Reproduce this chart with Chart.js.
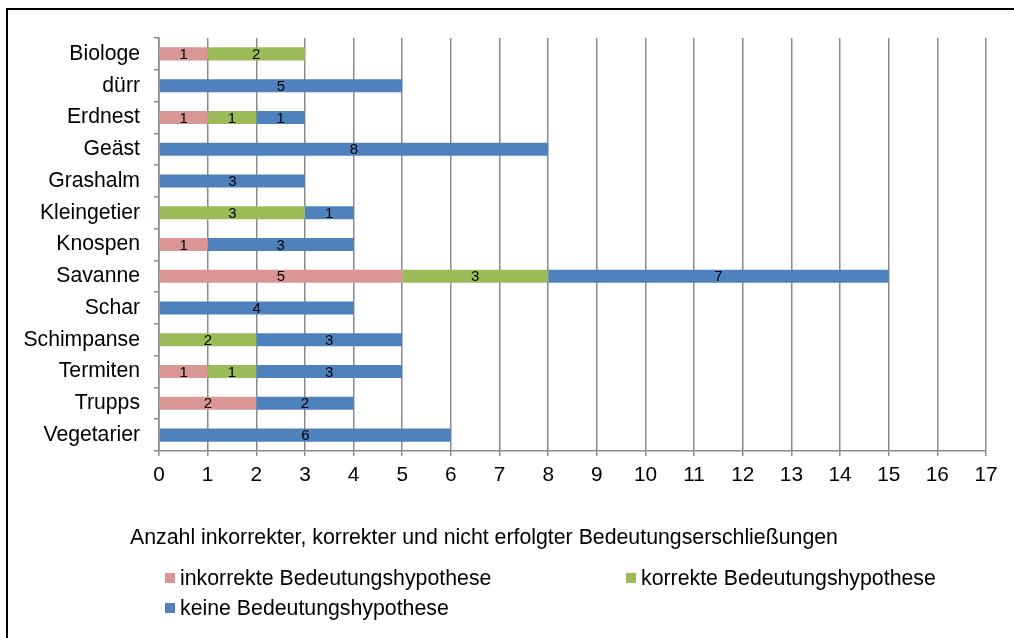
<!DOCTYPE html>
<html>
<head>
<meta charset="utf-8">
<script src="https://cdn.jsdelivr.net/npm/chart.js@4/dist/chart.umd.min.js"></script>
<style>
  html, body { margin: 0; padding: 0; background: #ffffff; }
  #wrap { position: relative; width: 1014px; height: 638px; }
</style>
</head>
<body>
<div id="wrap"><canvas id="c" width="1014" height="638"></canvas></div>
<script>
// Words and the count of each kind of meaning inference
const categories = ['Biologe', 'dürr', 'Erdnest', 'Geäst', 'Grashalm', 'Kleingetier', 'Knospen',
                    'Savanne', 'Schar', 'Schimpanse', 'Termiten', 'Trupps', 'Vegetarier'];
const inkorrekt = [1, 0, 1, 0, 0, 0, 1, 5, 0, 0, 1, 2, 0];
const korrekt   = [2, 0, 1, 0, 0, 3, 0, 3, 0, 2, 1, 0, 0];
const keine     = [0, 5, 1, 8, 3, 1, 3, 7, 4, 3, 3, 2, 6];

const seriesLabels = ['inkorrekte Bedeutungshypothese', 'korrekte Bedeutungshypothese', 'keine Bedeutungshypothese'];
const seriesColors = ['#D99694', '#9BBB59', '#4F81BD'];
const xMin = 0, xMax = 17, xStep = 1;
const axisTitle = 'Anzahl inkorrekter, korrekter und nicht erfolgter Bedeutungserschließungen';

const FONT = "'Liberation Sans', Arial, sans-serif";
const GRID = '#8a8a8a';

// Outer frame of the chart
const framePlugin = {
  id: 'frame',
  beforeDraw(chart) {
    const ctx = chart.ctx;
    ctx.save();
    ctx.fillStyle = '#ffffff';
    ctx.fillRect(0, 0, chart.width, chart.height);
    ctx.strokeStyle = '#000000';
    ctx.lineWidth = 2;
    ctx.strokeRect(7, 9, chart.width + 20, chart.height + 20);
    ctx.restore();
  }
};

// Count printed in the middle of each bar segment
const valueLabels = {
  id: 'valueLabels',
  afterDatasetsDraw(chart) {
    const ctx = chart.ctx;
    ctx.save();
    ctx.font = '15px ' + FONT;
    ctx.fillStyle = '#000000';
    ctx.textAlign = 'center';
    ctx.textBaseline = 'middle';
    chart.data.datasets.forEach((ds, di) => {
      const meta = chart.getDatasetMeta(di);
      meta.data.forEach((bar, i) => {
        const v = ds.data[i];
        if (!v) return;
        const p = bar.getProps(['x', 'y', 'base'], true);
        ctx.fillText(String(v), (p.x + p.base) / 2, p.y + 1);
      });
    });
    ctx.restore();
  }
};

// Axis caption and two-column legend beneath the plot
const captionLegend = {
  id: 'captionLegend',
  afterDraw(chart) {
    const ctx = chart.ctx;
    ctx.save();
    ctx.fillStyle = '#000000';
    ctx.font = '21.3px ' + FONT;
    ctx.textAlign = 'left';
    ctx.textBaseline = 'middle';
    ctx.fillText(axisTitle, 130, 538);

    const slots = [
      { x: 165, y: 578 },
      { x: 626, y: 578 },
      { x: 165, y: 608 }
    ];
    chart.data.datasets.forEach((ds, i) => {
      const s = slots[i];
      ctx.fillStyle = ds.backgroundColor;
      ctx.fillRect(s.x, s.y - 5, 10, 10);
      ctx.fillStyle = '#000000';
      ctx.fillText(ds.label, s.x + 15, s.y + 1);
    });
    ctx.restore();
  }
};

const datasets = [inkorrekt, korrekt, keine].map((values, i) => ({
  label: seriesLabels[i],
  data: values,
  backgroundColor: seriesColors[i],
  borderWidth: 0,
  barPercentage: 0.41,
  categoryPercentage: 1.0
}));

new Chart(document.getElementById('c'), {
  type: 'bar',
  data: { labels: categories, datasets },
  options: {
    indexAxis: 'y',
    responsive: false,
    animation: false,
    devicePixelRatio: 1,
    layout: { padding: { left: 0, top: 38, right: 28, bottom: 127 } },
    plugins: {
      legend: { display: false },
      tooltip: { enabled: false },
      title: { display: false }
    },
    scales: {
      x: {
        stacked: true,
        min: xMin,
        max: xMax,
        ticks: {
          stepSize: xStep,
          color: '#000000',
          font: { family: FONT, size: 20.8 },
          padding: 7
        },
        grid: {
          color: GRID,
          lineWidth: 1.5,
          tickLength: 5,
          drawTicks: true
        },
        border: { color: GRID, width: 1.5 },
        afterFit(scale) { scale.height = 60; }
      },
      y: {
        stacked: true,
        offset: true,
        ticks: {
          color: '#000000',
          font: { family: FONT, size: 21.2 },
          padding: 14,
          autoSkip: false
        },
        grid: {
          drawOnChartArea: false,
          drawTicks: true,
          tickLength: 5,
          color: GRID,
          lineWidth: 1.5,
          offset: true
        },
        border: { color: GRID, width: 1.5 },
        afterFit(scale) { scale.width = 159; }
      }
    }
  },
  plugins: [framePlugin, valueLabels, captionLegend]
});
</script>
</body>
</html>
